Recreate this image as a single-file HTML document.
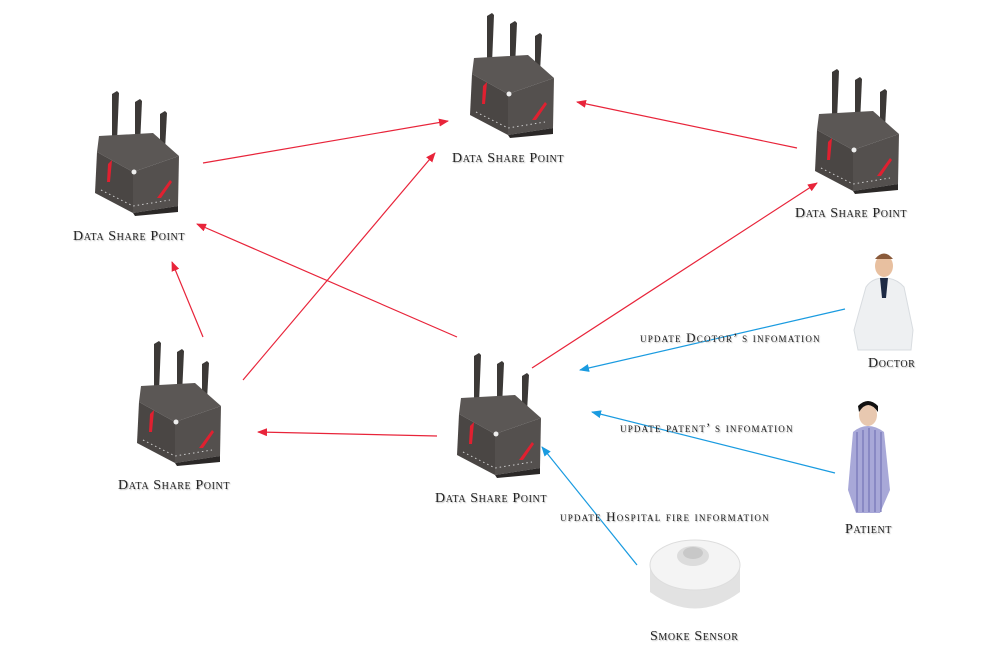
<!DOCTYPE html>
<html><head><meta charset="utf-8"><style>
body{margin:0;background:#fff;width:1000px;height:670px;overflow:hidden;position:relative}
.t{position:absolute;font-family:"Liberation Serif",serif;font-variant:small-caps;font-size:14px;color:#222;letter-spacing:0.6px;white-space:nowrap;text-shadow:1px 1px 1px #bbb}
.s{font-size:13px;letter-spacing:1.2px}
svg{position:absolute;left:0;top:0}
</style></head><body>
<svg width="1000" height="670" viewBox="0 0 1000 670">
<defs>
<marker id="ar" markerWidth="10" markerHeight="8" refX="9" refY="4" orient="auto" markerUnits="userSpaceOnUse"><path d="M0,0L10,4L0,8z" fill="#e8243a"/></marker>
<marker id="ab" markerWidth="10" markerHeight="8" refX="9" refY="4" orient="auto" markerUnits="userSpaceOnUse"><path d="M0,0L10,4L0,8z" fill="#1a9be0"/></marker>
<g id="rt">
<path d="M17,4 L22,1 L24,3 L22,52 L17,52z" fill="#3c3937"/>
<path d="M40,12 L45,9 L47,11 L45,55 L40,55z" fill="#3c3937"/>
<path d="M65,24 L70,21 L72,23 L70,60 L65,60z" fill="#3c3937"/>
<path d="M4,46 L58,43 L84,66 L38,82 L2,62z" fill="#5b5755"/>
<path d="M2,62 L38,82 L38,123 L0,103z" fill="#4a4644"/>
<path d="M38,82 L84,66 L83,116 L38,123z" fill="#54504e"/>
<path d="M13,74 L17,70 L15,92 L12,92z" fill="#e02030"/>
<path d="M62,108 L75,90 L77,92 L66,108z" fill="#e02030"/>
<circle cx="39" cy="82" r="2.5" fill="#eee"/>
<path d="M6,100 L38,116 L75,110" stroke="#ccc" stroke-width="1" stroke-dasharray="1.5 3" fill="none"/>
<path d="M38,123 L83,116 L83,122 L40,126z" fill="#2b2827"/>
</g>
</defs>
<use href="#rt" x="470" y="12"/>
<use href="#rt" x="95" y="90"/>
<use href="#rt" x="815" y="68"/>
<use href="#rt" x="137" y="340"/>
<use href="#rt" x="457" y="352"/>
<g stroke="#e8243a" stroke-width="1.2" fill="none">
<line x1="203" y1="163" x2="448" y2="121" marker-end="url(#ar)"/>
<line x1="243" y1="380" x2="435" y2="153" marker-end="url(#ar)"/>
<line x1="797" y1="148" x2="577" y2="102" marker-end="url(#ar)"/>
<line x1="457" y1="337" x2="197" y2="224" marker-end="url(#ar)"/>
<line x1="203" y1="337" x2="172" y2="262" marker-end="url(#ar)"/>
<line x1="532" y1="368" x2="817" y2="183" marker-end="url(#ar)"/>
<line x1="437" y1="436" x2="258" y2="432" marker-end="url(#ar)"/>
</g>
<g stroke="#1a9be0" stroke-width="1.2" fill="none">
<line x1="845" y1="309" x2="580" y2="370" marker-end="url(#ab)"/>
<line x1="835" y1="473" x2="592" y2="412" marker-end="url(#ab)"/>
<line x1="637" y1="565" x2="542" y2="447" marker-end="url(#ab)"/>
</g>
<!-- doctor -->
<ellipse cx="884" cy="266" rx="9" ry="11" fill="#e8c0a0"/>
<path d="M875,259 Q884,248 893,259z" fill="#8a5a3a"/>
<path d="M866,287 Q872,278 884,278 Q896,278 904,287 L913,330 L911,350 L858,350 L854,330z" fill="#eef0f2" stroke="#d8dce0"/>
<path d="M880,278 L888,278 L886,298 L882,298z" fill="#1d2a44"/>
<!-- patient -->
<ellipse cx="868" cy="415" rx="9" ry="11" fill="#e8c8b0"/>
<path d="M859,412 Q868,398 878,412 L878,406 Q868,396 858,406z" fill="#111"/>
<path d="M853,432 Q860,426 868,426 Q876,426 884,432 L890,490 L880,513 L856,513 L848,490z" fill="#a8a8d8"/>
<g stroke="#6a6ab0" stroke-width="1"><line x1="857" y1="432" x2="857" y2="512"/><line x1="863" y1="430" x2="863" y2="512"/><line x1="869" y1="428" x2="869" y2="512"/><line x1="875" y1="430" x2="875" y2="512"/><line x1="881" y1="432" x2="881" y2="512"/></g>
<!-- smoke sensor -->
<path d="M650,565 L740,565 L740,592 Q695,625 650,592z" fill="#e2e2e2"/>
<ellipse cx="695" cy="565" rx="45" ry="25" fill="#f4f4f4" stroke="#ddd"/>
<ellipse cx="693" cy="556" rx="16" ry="10" fill="#dcdcdc"/>
<ellipse cx="693" cy="553" rx="10" ry="6" fill="#c8c8c8"/>
</svg>
<div class="t" style="left:452px;top:151px">Data Share Point</div>
<div class="t" style="left:73px;top:229px">Data Share Point</div>
<div class="t" style="left:795px;top:206px">Data Share Point</div>
<div class="t" style="left:118px;top:478px">Data Share Point</div>
<div class="t" style="left:435px;top:491px">Data Share Point</div>
<div class="t" style="left:868px;top:356px">Doctor</div>
<div class="t" style="left:845px;top:522px">Patient</div>
<div class="t" style="left:650px;top:629px">Smoke Sensor</div>
<div class="t s" style="left:640px;top:330px">update Dcotor’ s infomation</div>
<div class="t s" style="left:620px;top:420px">update patent’ s infomation</div>
<div class="t s" style="left:560px;top:509px">update Hospital fire information</div>
</body></html>
